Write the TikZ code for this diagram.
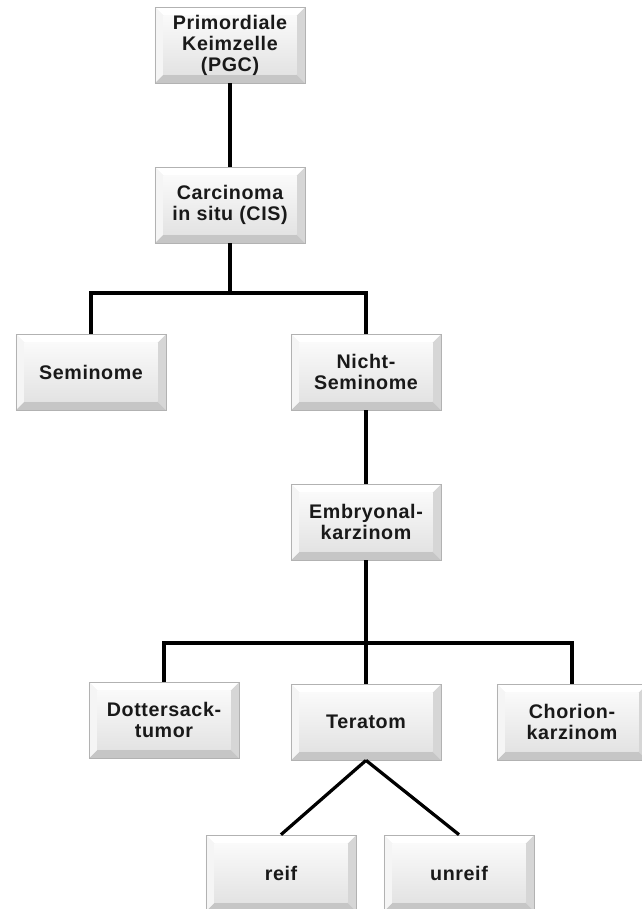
\documentclass[tikz,border=0pt]{standalone}
\usepackage{fontspec}
\setmainfont{Liberation Sans}
\usetikzlibrary{calc}
\tikzset{
  bevelbox/.style={rectangle, inner sep=0pt, minimum width=3.75cm, minimum height=1.9cm,
    align=center, text=black!90, fill=gray!15, draw=gray!60, line width=0.5pt,
    font=\bfseries\fontsize{14}{15}\selectfont\addfontfeature{LetterSpace=3},
    path picture={
      \path (path picture bounding box.south west) coordinate (bsw)
            (path picture bounding box.north east) coordinate (bne)
            (path picture bounding box.north west) coordinate (bnw)
            (path picture bounding box.south east) coordinate (bse);
      \fill[gray!45] (bsw) -- (bse) -- ([shift={(-6pt,6pt)}]bse) -- ([shift={(6pt,6pt)}]bsw) -- cycle;
      \fill[gray!32] (bse) -- (bne) -- ([shift={(-6pt,-6pt)}]bne) -- ([shift={(-6pt,6pt)}]bse) -- cycle;
      \fill[white] (bnw) -- (bne) -- ([shift={(-6pt,-6pt)}]bne) -- ([shift={(6pt,-6pt)}]bnw) -- cycle;
      \fill[gray!8] (bsw) -- (bnw) -- ([shift={(6pt,-6pt)}]bnw) -- ([shift={(6pt,6pt)}]bsw) -- cycle;
      \shade[top color=gray!4, bottom color=gray!22] ([shift={(6pt,6pt)}]bsw) rectangle ([shift={(-6pt,-6pt)}]bne);
    }},
  link/.style={line width=2.3pt, black}
}

\begin{document}
\begin{tikzpicture}[x=0.025cm, y=-0.025cm]
  %%%%% START %%%%%
  \useasboundingbox (0,0) rectangle (641,909);

  \node[bevelbox] (pgc) at (230,45) {Primordiale\\Keimzelle\\(PGC)};
  \node[bevelbox] (cis) at (230,205) {Carcinoma\\in situ (CIS)};

  \node[bevelbox] (sem) at (91,372) {Seminome};
  \node[bevelbox] (nsem) at (366,372) {Nicht-\\Seminome};

  \node[bevelbox] (emb) at (366,522) {Embryonal-\\karzinom};

  \node[bevelbox] (dot) at (164,720) {Dottersack-\\tumor};
  \node[bevelbox] (ter) at (366,722) {Teratom};
  \node[bevelbox] (cho) at (572,722) {Chorion-\\karzinom};

  \node[bevelbox] (reif) at (281,873) {reif};
  \node[bevelbox] (unreif) at (459,873) {unreif};

  % tree lines
  \coordinate (split1) at (230,293);
  \coordinate (split2) at (366,643);

  \draw[link] (pgc) -- (cis);
  \draw[link] (cis) -- (split1);
  \draw[link] (split1) -| (sem);
  \draw[link] (split1) -| (nsem);

  \draw[link] (nsem) -- (emb);
  \draw[link] (emb) -- (split2);
  \draw[link] (split2) -| (dot);
  \draw[link] (split2) -- (ter);
  \draw[link] (split2) -| (cho);

  \draw[link] (ter.south) -- (reif.north);
  \draw[link] (ter.south) -- (unreif.north);
  %%%%% END %%%%%
\end{tikzpicture}
\end{document}
